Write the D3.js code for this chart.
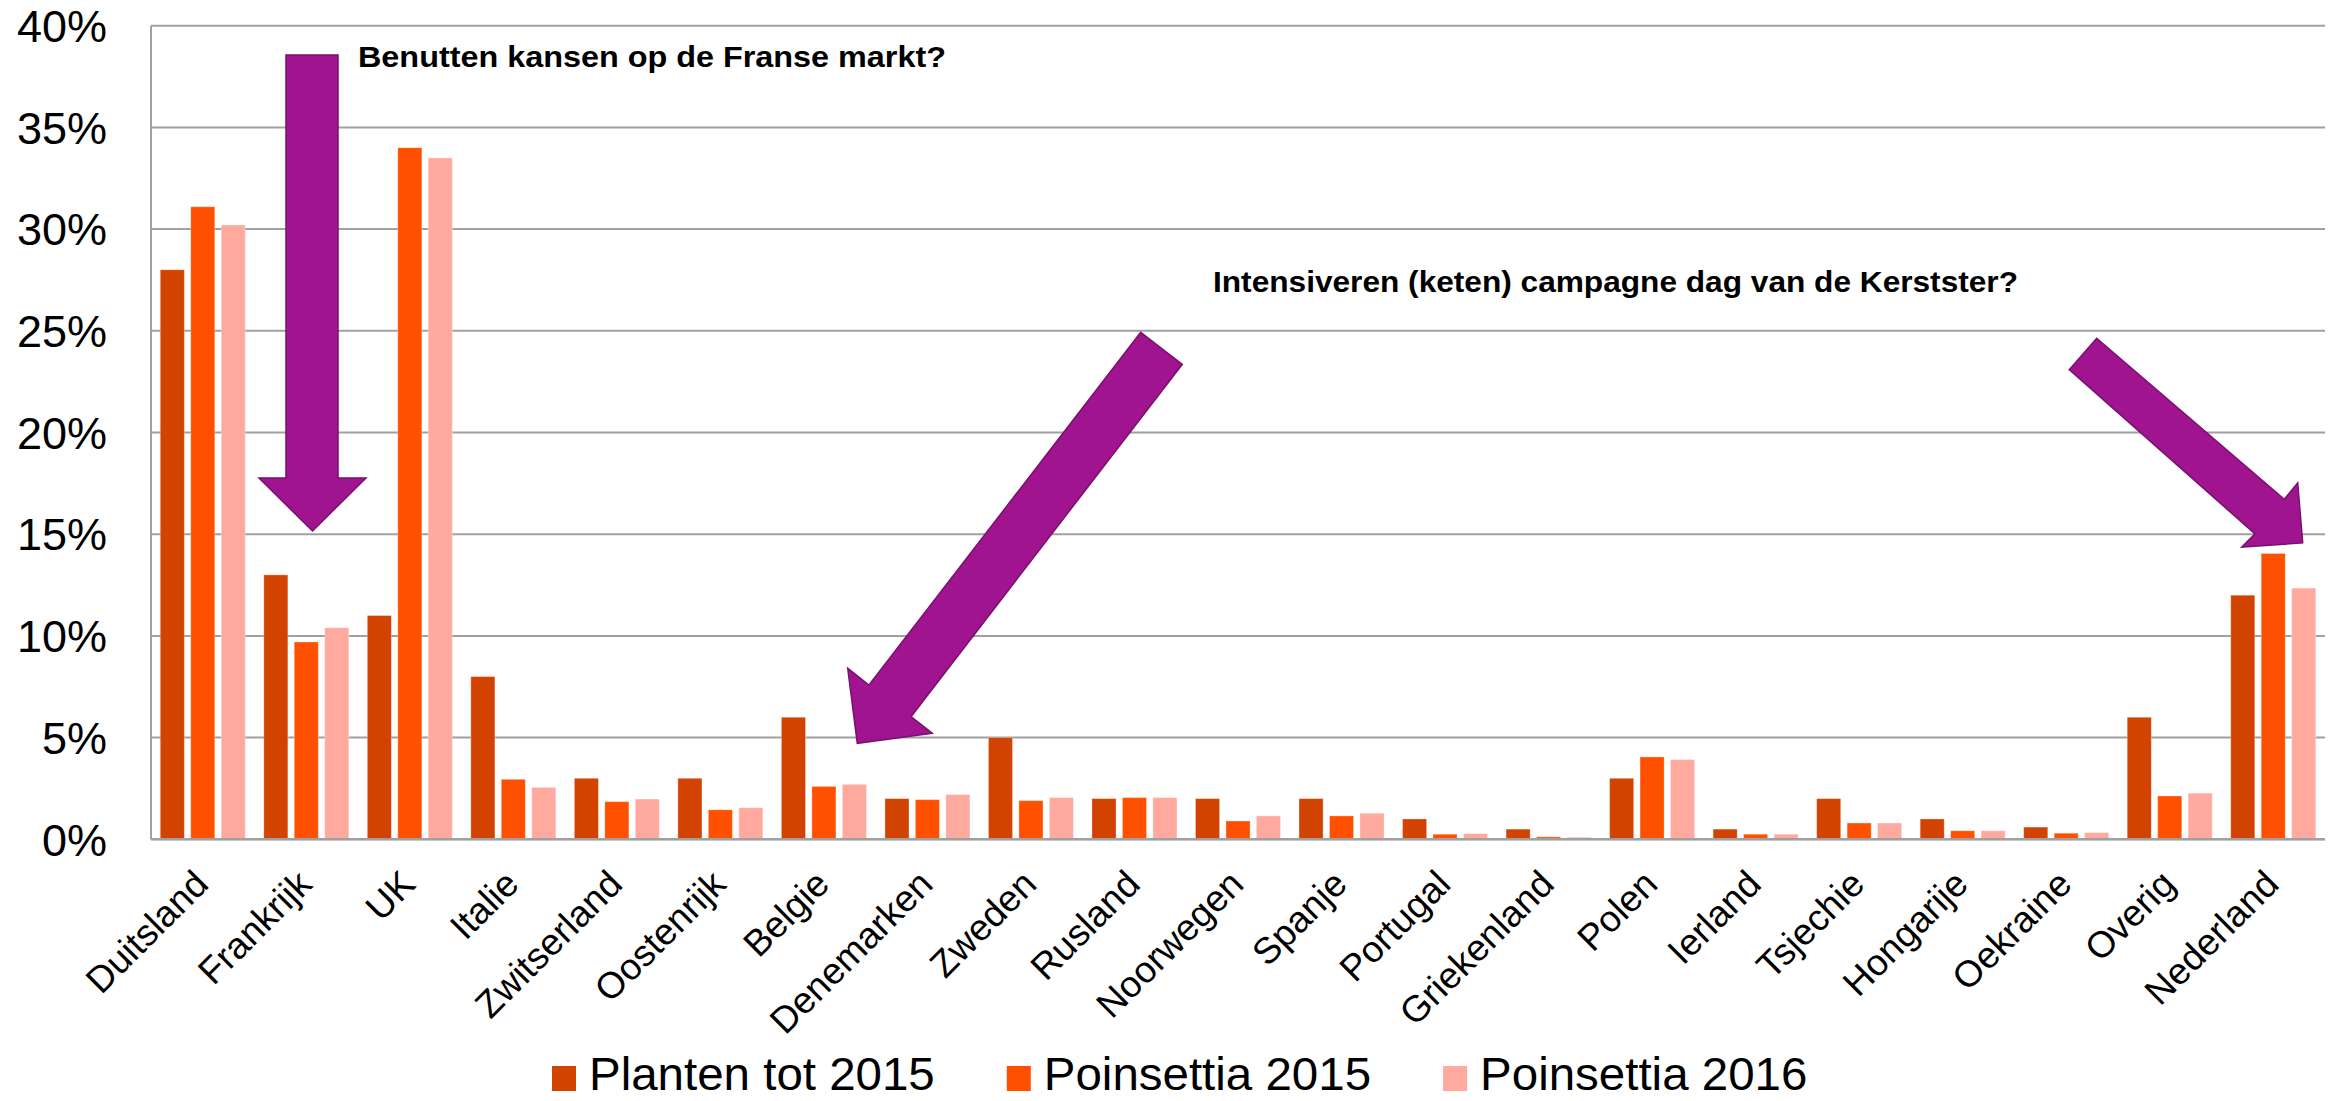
<!DOCTYPE html>
<html>
<head>
<meta charset="utf-8">
<script src="https://cdn.jsdelivr.net/npm/d3@7"></script>
<style>
  html, body { margin: 0; padding: 0; background: #fff; }
  svg { display: block; font-family: "Liberation Sans", Arial, sans-serif; }
</style>
</head>
<body>
<div id="chart"></div>
<script>
const countries = ['Duitsland', 'Frankrijk', 'UK', 'Italie', 'Zwitserland', 'Oostenrijk', 'Belgie',
    'Denemarken', 'Zweden', 'Rusland', 'Noorwegen', 'Spanje', 'Portugal', 'Griekenland', 'Polen',
    'Ierland', 'Tsjechie', 'Hongarije', 'Oekraine', 'Overig', 'Nederland'];

const seriesNames = ['Planten tot 2015', 'Poinsettia 2015', 'Poinsettia 2016'];

// percentages
const planten2015 = [28, 13, 11, 8, 3, 3, 6, 2, 5, 2, 2, 2, 1, 0.5, 3, 0.5, 2, 1, 0.6, 6, 12];
const poinsettia2015 = [31.1, 9.7, 34, 2.95, 1.85, 1.45, 2.6, 1.95, 1.9, 2.05, 0.9, 1.15, 0.25, 0.12, 4.05, 0.25, 0.8, 0.42, 0.3, 2.13, 14.05];
const poinsettia2016 = [30.2, 10.4, 33.5, 2.55, 1.98, 1.55, 2.7, 2.2, 2.05, 2.05, 1.15, 1.28, 0.28, 0.1, 3.92, 0.25, 0.8, 0.42, 0.33, 2.27, 12.35];

const yTicks = [0, 0.05, 0.10, 0.15, 0.20, 0.25, 0.30, 0.35, 0.40];

const colors = ['#D24200', '#FF5000', '#FFA99F'];

const W = 2331, H = 1101;
const margin = { left: 151, right: 6, top: 25.7, bottom: 261.7 };

const svg = d3.select('#chart').append('svg')
    .attr('width', W)
    .attr('height', H);

const x0 = d3.scaleBand()
    .domain(countries)
    .range([margin.left, W - margin.right])
    .paddingInner(0.179)
    .paddingOuter(0.0895);

const x1 = d3.scaleBand()
    .domain(seriesNames)
    .range([0, x0.bandwidth()])
    .paddingInner(0.21);

const y = d3.scaleLinear()
    .domain([0, 0.4])
    .range([H - margin.bottom, margin.top]);

// gridlines
svg.append('g')
    .selectAll('line')
    .data(yTicks)
    .enter().append('line')
    .attr('x1', margin.left)
    .attr('x2', W - margin.right)
    .attr('y1', d => y(d))
    .attr('y2', d => y(d))
    .attr('stroke', '#A0A0A0')
    .attr('stroke-width', 2);

// y labels
svg.append('g')
    .selectAll('text')
    .data(yTicks)
    .enter().append('text')
    .attr('x', 107)
    .attr('y', d => y(d))
    .attr('dy', '0.36em')
    .attr('text-anchor', 'end')
    .attr('font-size', 45)
    .attr('fill', '#000')
    .text(d3.format('.0%'));

// bars
const rows = countries.map((c, i) => ({
    country: c,
    values: [planten2015[i], poinsettia2015[i], poinsettia2016[i]]
}));

const group = svg.append('g')
    .selectAll('g')
    .data(rows)
    .enter().append('g')
    .attr('transform', d => `translate(${x0(d.country)},0)`);

group.selectAll('rect')
    .data(d => d.values.map((v, k) => ({ name: seriesNames[k], value: v / 100, k })))
    .enter().append('rect')
    .attr('x', d => x1(d.name))
    .attr('width', x1.bandwidth())
    .attr('y', d => y(d.value))
    .attr('height', d => y(0) - y(d.value))
    .attr('fill', d => colors[d.k])
    .attr('stroke', '#fff')
    .attr('stroke-opacity', 0.3)
    .attr('stroke-width', 1);

// axes lines
svg.append('line')
    .attr('x1', margin.left).attr('x2', margin.left)
    .attr('y1', y(0.4)).attr('y2', y(0))
    .attr('stroke', '#A0A0A0').attr('stroke-width', 2);
svg.append('line')
    .attr('x1', margin.left).attr('x2', W - margin.right)
    .attr('y1', y(0)).attr('y2', y(0))
    .attr('stroke', '#A0A0A0').attr('stroke-width', 2.5);

// x labels, rotated, baseline end just right of the group centre
svg.append('g')
    .selectAll('text')
    .data(countries)
    .enter().append('text')
    .attr('transform', d => `translate(${x0(d) + x0.bandwidth() / 2 + 7.5},${y(0) + 47}) rotate(-45)`)
    .attr('text-anchor', 'end')
    .attr('font-size', 37)
    .attr('fill', '#000')
    .text(d => d);

// annotation arrows
const arrows = [
    [[286, 55], [338, 55], [338, 478], [366, 478], [312.5, 531], [259, 478], [286, 478]],
    [[1140.7, 332.3], [1182.3, 364.3], [911, 716.7], [932.3, 733.3], [857.3, 743.3], [847.7, 668.3], [869, 685]],
    [[2096.7, 338.2], [2284.3, 499.3], [2297.7, 482.9], [2302.7, 542.9], [2241.7, 547.1], [2255, 533.9], [2069.3, 369.6]]
];

svg.append('g')
    .selectAll('path')
    .data(arrows)
    .enter().append('path')
    .attr('d', d => d3.line()(d) + 'Z')
    .attr('fill', '#A01490')
    .attr('stroke', '#7A0F6E')
    .attr('stroke-width', 1.5)
    .attr('stroke-linejoin', 'miter');

// annotation texts
const notes = [
    { text: 'Benutten kansen op de Franse markt?', x: 358, y: 66.5, w: 588 },
    { text: 'Intensiveren (keten) campagne dag van de Kerstster?', x: 1213, y: 291.5, w: 805 }
];

svg.append('g')
    .selectAll('text')
    .data(notes)
    .enter().append('text')
    .attr('x', d => d.x)
    .attr('y', d => d.y)
    .attr('font-size', 30)
    .attr('font-weight', 'bold')
    .attr('textLength', d => d.w)
    .attr('lengthAdjust', 'spacingAndGlyphs')
    .attr('fill', '#000')
    .text(d => d.text);

// legend (text a touch wider than the font gives, as in the original)
const legend = svg.append('g');
let lx = 552;
seriesNames.forEach((name, k) => {
    legend.append('rect')
        .attr('x', lx)
        .attr('y', 1066)
        .attr('width', 24)
        .attr('height', 25)
        .attr('fill', colors[k]);
    const t = legend.append('text')
        .attr('x', lx + 37)
        .attr('y', 1090)
        .attr('font-size', 46)
        .attr('fill', '#000')
        .text(name);
    const w = t.node().getComputedTextLength() * 1.032;
    t.attr('textLength', w).attr('lengthAdjust', 'spacingAndGlyphs');
    lx += 37 + w + 72;
});
</script>
</body>
</html>
